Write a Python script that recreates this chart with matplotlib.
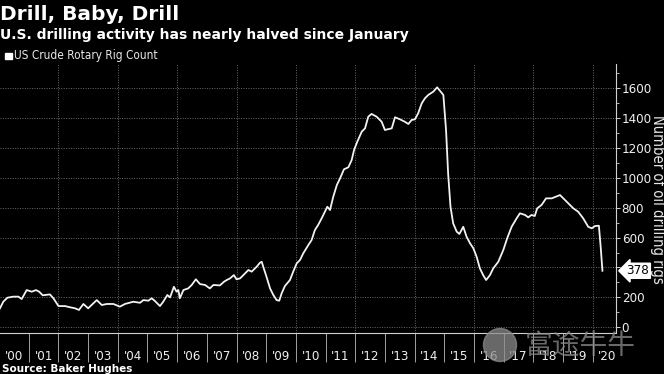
import matplotlib
matplotlib.use("Agg")
import matplotlib.pyplot as plt
from matplotlib.patches import Circle
from matplotlib.ticker import FixedLocator, MultipleLocator
import matplotlib.transforms as mtransforms

# US crude rotary rig count (decimal year, rigs)
dates = [
    2000.03, 2000.14, 2000.28, 2000.48, 2000.65, 2000.76, 2000.93, 2001.10,
    2001.24, 2001.35, 2001.47, 2001.71, 2001.83, 2002.00, 2002.22, 2002.39,
    2002.56, 2002.69, 2002.84, 2003.00, 2003.29, 2003.46, 2003.63, 2003.85,
    2004.07, 2004.24, 2004.52, 2004.75, 2004.86, 2005.03, 2005.14, 2005.25,
    2005.42, 2005.53, 2005.67, 2005.76, 2005.89, 2005.98, 2006.04, 2006.09,
    2006.21, 2006.37, 2006.49, 2006.63, 2006.77, 2006.94, 2007.10, 2007.22,
    2007.44, 2007.58, 2007.67, 2007.78, 2007.91, 2008.00, 2008.12, 2008.29,
    2008.40, 2008.51, 2008.68, 2008.79, 2008.85, 2008.90, 2009.01, 2009.13,
    2009.24, 2009.35, 2009.44, 2009.52, 2009.63, 2009.80, 2009.91, 2010.03,
    2010.14, 2010.25, 2010.42, 2010.53, 2010.64, 2010.75, 2010.87, 2010.98,
    2011.06, 2011.15, 2011.26, 2011.38, 2011.49, 2011.62, 2011.77, 2011.88,
    2011.96, 2012.07, 2012.22, 2012.33, 2012.44, 2012.55, 2012.72, 2012.89,
    2013.00, 2013.11, 2013.23, 2013.34, 2013.51, 2013.67, 2013.79, 2013.90,
    2014.01, 2014.12, 2014.24, 2014.35, 2014.46, 2014.63, 2014.76, 2014.88,
    2014.97, 2015.06, 2015.13, 2015.21, 2015.30, 2015.42, 2015.51, 2015.64,
    2015.75, 2015.87, 2015.98, 2016.09, 2016.20, 2016.31, 2016.41, 2016.54,
    2016.65, 2016.82, 2016.99, 2017.12, 2017.27, 2017.44, 2017.55, 2017.72,
    2017.83, 2017.94, 2018.05, 2018.13, 2018.28, 2018.43, 2018.62, 2018.76,
    2018.90, 2019.01, 2019.18, 2019.35, 2019.51, 2019.68, 2019.85, 2019.97,
    2020.08, 2020.21, 2020.27, 2020.33,
]
rigs = [
    127, 171, 198, 205, 205, 189, 249, 238,
    249, 238, 214, 220, 194, 142, 142, 134,
    127, 116, 156, 127, 182, 149, 156, 156,
    138, 156, 171, 164, 182, 178, 194, 176,
    142, 171, 216, 200, 271, 238, 249, 194,
    249, 260, 283, 321, 289, 283, 260, 283,
    280, 305, 316, 327, 349, 321, 327, 361,
    383, 372, 405, 432, 438, 405, 338, 260,
    216, 182, 178, 227, 276, 316, 372, 428,
    450, 495, 550, 583, 650, 684, 729, 773,
    806, 784, 873, 951, 996, 1056, 1070, 1118,
    1185, 1241, 1308, 1330, 1408, 1426, 1408, 1374,
    1319, 1324, 1330, 1404, 1390, 1374, 1359, 1386,
    1390, 1430, 1497, 1531, 1553, 1575, 1604, 1575,
    1553, 1319, 1029, 806, 695, 639, 624, 672,
    606, 561, 528, 472, 394, 349, 316, 349,
    394, 438, 517, 595, 672, 729, 762, 751,
    735, 751, 744, 795, 818, 862, 862, 873,
    884, 862, 829, 795, 773, 729, 672, 662,
    677, 679, 539, 378,
]
years = list(range(2000, 2021))
year_labels = ["'%02d" % (y % 100) for y in years]
last_value = rigs[-1]

# condensed face for the axis texts
narrow = dict(family="DejaVu Sans", stretch="condensed")
W, H = 664, 374

fig = plt.figure(figsize=(W / 100, H / 100), dpi=100, facecolor="black")
ax = fig.add_axes([0, 1 - 333 / H, 615.5 / W, (333 - 64) / H])
ax.set_facecolor("black")

ax.plot(dates, rigs, color="#f2f2f2", lw=1.3, solid_joinstyle="round", zorder=3)

ax.set_xlim(2000.03, 2020.77)
ax.set_ylim(-38, 1760)

# grid: horizontal every 200, vertical every two years
for v in range(0, 1601, 200):
    ax.axhline(v, color="#6a6a6a", lw=0.7, ls=(0, (1, 1.5)), zorder=1)
for y in range(2002, 2021, 2):
    ax.axvline(y, color="#6a6a6a", lw=0.7, ls=(0, (1, 1.5)), zorder=1)

for s in ["top", "left"]:
    ax.spines[s].set_visible(False)
ax.spines["right"].set_color("#d0d0d0")
ax.spines["bottom"].set_color("#d0d0d0")
ax.spines["right"].set_linewidth(0.8)
ax.spines["bottom"].set_linewidth(0.8)

# right axis
ax.yaxis.tick_right()
ax.yaxis.set_major_locator(FixedLocator(range(0, 1601, 200)))
ax.yaxis.set_minor_locator(MultipleLocator(100))
ax.tick_params(axis="y", which="major", length=3, width=0.7, color="#d0d0d0",
               pad=1.5, labelcolor="#f0f0f0", labelsize=9.5)
ax.tick_params(axis="y", which="minor", length=2, width=0.6, color="#d0d0d0")
for lab in ax.get_yticklabels():
    lab.set(**narrow)
fig.text(657 / W, 1 - 199 / H, "Number of oil drilling rigs", rotation=270,
         color="#e8e8e8", fontsize=10.5, ha="center", va="center", **narrow)

# x axis: labels centred in each year, separators at year boundaries
ax.xaxis.set_major_locator(FixedLocator([y + 0.5 for y in years]))
ax.set_xticklabels(year_labels)
ax.xaxis.set_minor_locator(FixedLocator(years[1:]))
ax.tick_params(axis="x", which="major", length=0, pad=12, labelcolor="#f0f0f0",
               labelsize=9.5)
ax.tick_params(axis="x", which="minor", length=21, width=0.6, color="#bbbbbb")
for lab in ax.get_xticklabels():
    lab.set(**narrow)

# last value tag
trans = mtransforms.blended_transform_factory(ax.transAxes, ax.transData)
ax.text(1.018, last_value, str(last_value), transform=trans, ha="left", va="center",
        fontsize=9.5, color="black", clip_on=False,
        bbox=dict(boxstyle="larrow,pad=0.08", fc="white", ec="white"), **narrow)

# titles, legend, source
fig.text(0 / W, 1 - 19.5 / H, "Drill, Baby, Drill", color="white", fontsize=14.5,
         fontweight="bold", va="baseline", ha="left")
fig.text(0 / W, 1 - 38.5 / H, "U.S. drilling activity has nearly halved since January",
         color="white", fontsize=10, fontweight="bold", va="baseline", ha="left")
fig.patches.append(plt.Rectangle((5 / W, 1 - 59 / H), 6.5 / W, 6.5 / H, color="white",
                                 transform=fig.transFigure, figure=fig))
fig.text(13.5 / W, 1 - 56 / H, "US Crude Rotary Rig Count", color="#e8e8e8",
         fontsize=8.5, va="center", ha="left", **narrow)
fig.text(2 / W, 1 - 371.5 / H, "Source: Baker Hughes", color="white", fontsize=7.5,
         fontweight="bold", va="baseline", ha="left")

# watermark
fig.patches.append(Circle((5.00, (H - 345) / 100), 0.165, color="#8c8c8c", alpha=0.75,
                          transform=fig.dpi_scale_trans, figure=fig))
fig.text(580 / W, 1 - 346 / H, "富途牛牛", color="#8c8c8c", alpha=0.75, fontsize=20,
         family=["Noto Sans CJK SC", "DejaVu Sans"], va="center", ha="center")

fig.savefig("out.png", dpi=100, facecolor="black")
